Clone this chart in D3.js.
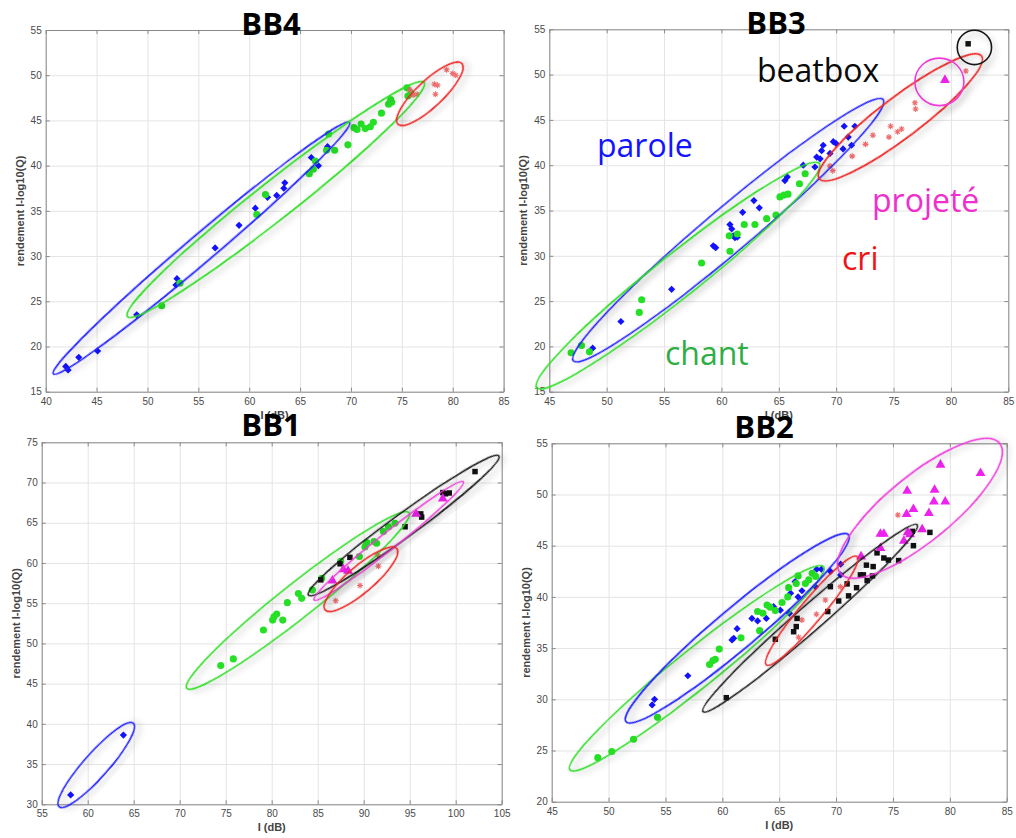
<!DOCTYPE html>
<html><head><meta charset="utf-8">
<script src="https://cdn.jsdelivr.net/npm/d3@7"></script>
<style>body{margin:0;background:#fff}svg{display:block}</style>
</head><body>
<svg id="c" width="1016" height="838"></svg>
<script>
// ---- measurements: I (dB) vs rendement I-log10(Q), one block per subject ----
const classes = ["parole", "chant", "cri", "beatbox", "projete"];
const classNames = ["parole", "chant", "cri", "beatbox", "projeté"];

// BB4
const bb4XTicks = [40, 45, 50, 55, 60, 65, 70, 75, 80, 85];
const bb4YTicks = [15, 20, 25, 30, 35, 40, 45, 50, 55];
const bb4Parole = [[41.97,17.8],[42.2,17.4],[43.25,18.8],[45.1,19.5],[48.95,23.5],[52.8,26.8],[52.9,27.5],[56.65,30.9],[59.0,33.4],[60.6,35.3],[61.8,36.5],[62.7,36.7],[63.4,37.5],[63.5,38.1],[66.1,40.9],[66.8,40.0],[67.7,42.1]];
const bb4Chant = [[51.4,24.5],[53.2,27.0],[60.75,34.6],[61.6,36.8],[65.9,39.1],[66.3,39.6],[66.5,40.5],[67.6,41.7],[67.8,43.5],[68.4,41.7],[69.7,42.3],[70.3,44.2],[70.6,44.0],[71.0,44.6],[71.4,44.1],[71.9,44.3],[72.2,44.8],[73.0,45.8],[73.7,46.8],[73.9,47.3],[74.0,47.0],[75.5,48.6],[75.6,47.7],[75.9,48.0]];
const bb4Cri = [[75.8,48.4],[76.1,47.8],[76.5,47.9],[78.2,49.0],[78.5,48.9],[78.3,47.9],[79.4,50.6],[80.0,50.2],[80.3,50.0]];
// ellipse: class, end of major axis (x1,y1), other end (x2,y2), minor/major ratio
const bb4Ellipses = [["parole",40.75,16.96,69.87,44.78,0.07],["chant",48.03,23.3,77.2,49.2,0.1],["cri",74.6,44.6,80.9,51.3,0.3]];

// BB3
const bb3XTicks = [45, 50, 55, 60, 65, 70, 75, 80, 85];
const bb3YTicks = [15, 20, 25, 30, 35, 40, 45, 50, 55];
const bb3Parole = [[48.78,19.8],[51.24,22.75],[55.66,26.3],[59.29,31.1],[59.5,30.9],[60.74,33.45],[60.9,32.97],[61.03,32.2],[61.18,32.0],[61.38,32.05],[61.85,34.8],[62.83,36.1],[63.3,35.3],[65.53,38.3],[65.74,38.7],[67.13,40.0],[68.15,39.8],[68.3,40.9],[68.6,40.7],[68.73,41.6],[68.87,42.2],[69.46,41.3],[69.75,42.6],[69.98,42.4],[70.6,41.8],[70.7,44.3],[71.05,43.1],[71.34,42.2],[71.63,44.3]];
const bb3Chant = [[46.9,19.3],[47.8,20.1],[48.5,19.4],[53.05,25.15],[52.84,23.75],[58.27,29.2],[60.74,30.5],[60.68,32.2],[61.38,32.4],[61.99,33.45],[62.92,33.45],[63.94,34.1],[64.75,34.5],[65.1,36.5],[65.45,36.7],[65.8,36.8],[66.8,37.95],[67.3,39.06]];
const bb3Cri = [[69.46,39.9],[69.7,39.4],[71.4,41.0],[72.56,42.3],[73.2,43.3],[74.6,43.1],[74.74,44.3],[75.35,43.7],[75.7,44.0],[76.86,46.9],[76.92,46.2],[81.3,50.4]];
const bb3Projete = [[79.48,49.4]];
const bb3Beatbox = [[81.5,53.4]];
const bb3Ellipses = [["parole",47.09,18.4,74.1,47.25,0.11],["chant",43.9,15.44,68.53,40.2,0.12],["cri",68.53,38.5,82.67,52.05,0.2],["projete",76.86,49.2,81.13,49.2,0.97],["beatbox",80.55,53.0,83.54,53.0,1.0]];

// BB1
const bb1XTicks = [55, 60, 65, 70, 75, 80, 85, 90, 95, 100, 105];
const bb1YTicks = [30, 35, 40, 45, 50, 55, 60, 65, 70, 75];
const bb1Parole = [[58.15,31.16],[63.88,38.6]];
const bb1Chant = [[74.46,47.24],[75.83,48.07],[79.1,51.67],[80.1,52.9],[80.25,53.3],[80.54,53.66],[81.2,52.9],[81.7,55.07],[82.9,56.2],[83.26,55.6],[84.42,56.65],[85.43,58.1],[87.5,60.2],[89.53,60.8],[90.14,62.0],[90.33,62.53],[91.12,62.66],[91.4,62.45],[92.14,63.9],[92.7,64.5],[93.4,64.94]];
const bb1Cri = [[86.96,55.3],[89.6,57.2],[91.6,59.6],[91.5,61.0]];
const bb1Beatbox = [[85.33,57.9],[87.43,59.9],[88.5,60.7],[94.5,64.5],[96.2,66.1],[96.3,65.7],[98.6,68.75],[98.9,68.6],[99.3,68.7],[102.1,71.36]];
const bb1Projete = [[86.6,57.8],[87.8,59.2],[88.3,59.0],[95.7,66.1],[98.6,68.0]];
const bb1Ellipses = [["parole",56.9,29.7,64.96,40.07,0.22],["chant",70.76,44.42,94.93,66.26,0.12],["beatbox",83.99,56.0,104.7,73.3,0.1],["projete",84.6,55.4,100.83,70.1,0.09],["cri",85.8,54.16,93.6,61.8,0.28]];

// BB2
const bb2XTicks = [45, 50, 55, 60, 65, 70, 75, 80, 85];
const bb2YTicks = [20, 25, 30, 35, 40, 45, 50, 55];
const bb2Parole = [[53.83,29.45],[54.04,30.0],[56.97,32.3],[60.85,35.8],[61.0,35.96],[61.3,36.9],[62.6,37.9],[63.1,37.65],[63.87,37.9],[64.5,39.05],[65.1,38.7],[65.9,38.4],[66.0,40.36],[66.4,41.5],[66.66,40.0],[67.0,40.6],[68.18,41.0],[68.3,42.7],[68.7,42.7],[69.5,42.5],[70.4,42.15],[70.4,43.2]];
const bb2Chant = [[49.05,24.3],[50.28,24.9],[52.19,26.1],[54.3,28.24],[58.88,33.4],[59.17,33.78],[59.38,33.9],[59.73,34.9],[61.64,36.0],[63.28,36.7],[63.1,38.57],[63.57,38.4],[63.93,39.2],[64.2,39.0],[64.66,38.66],[65.25,39.45],[65.75,40.0],[65.83,40.9],[66.5,41.3],[66.66,42.05],[67.3,41.3],[67.6,41.66],[67.9,42.3],[68.2,42.0]];
const bb2Cri = [[66.7,36.06],[67.0,37.75],[68.27,38.3],[69.06,39.7],[70.38,41.0],[75.43,48.0]];
const bb2Beatbox = [[60.35,30.16],[64.66,35.86],[66.27,36.6],[66.5,37.1],[66.57,37.9],[69.27,38.57],[69.5,41.0],[70.23,39.6],[70.97,41.27],[71.1,40.1],[71.8,40.9],[72.14,42.15],[72.4,42.15],[72.67,43.1],[72.73,41.6],[73.2,42.05],[73.26,42.96],[73.6,44.3],[74.2,43.8],[74.6,43.6],[75.5,43.55],[76.7,46.4],[76.8,45.0],[78.25,46.3]];
const bb2Projete = [[72.2,43.94],[73.9,44.76],[73.9,46.16],[74.2,46.16],[75.96,45.47],[76.2,48.07],[76.25,50.36],[76.3,46.3],[76.5,46.1],[76.8,48.57],[77.57,46.6],[78.16,48.17],[78.6,49.3],[78.66,50.45],[79.18,52.9],[79.6,49.3],[82.7,52.08]];
const bb2Ellipses = [["chant",46.6,23.1,68.9,42.96,0.12],["parole",51.54,27.8,71.1,46.06,0.14],["beatbox",58.3,28.8,77.13,47.04,0.09],["cri",63.87,33.36,71.85,43.94,0.16],["projete",70.38,42.3,84.38,55.0,0.32]];

const yLabel = "rendement I-log10(Q)";
const xLabel = "I (dB)";

// ---- styling ----
const markColor = {parole:"#1212ff", chant:"#25e025", cri:"#f07070", beatbox:"#111111", projete:"#ee22ee"};
const ringColor = {parole:"#1f1fff", chant:"#2bdd22", cri:"#ee2020", beatbox:"#151515", projete:"#ee3ad8"};
const textColor = {parole:"#1414ff", chant:"#2fae45", cri:"#ee1515", beatbox:"#0a0a0a", projete:"#ee30cc"};

const panels = [
  {title:"BB4", xd:[40,85], yd:[15,55], xt:bb4XTicks, yt:bb4YTicks, box:[45.7,503.6,30,391.7], tx:271, ty:35,
   data:{parole:bb4Parole, chant:bb4Chant, cri:bb4Cri}, ell:bb4Ellipses},
  {title:"BB3", xd:[45,85], yd:[15,55], xt:bb3XTicks, yt:bb3YTicks, box:[549.3,1008.3,29.3,391.7], tx:776, ty:34,
   data:{parole:bb3Parole, chant:bb3Chant, cri:bb3Cri, beatbox:bb3Beatbox, projete:bb3Projete}, ell:bb3Ellipses},
  {title:"BB1", xd:[55,105], yd:[30,75], xt:bb1XTicks, yt:bb1YTicks, box:[41.7,501.7,442.3,804.3], tx:271, ty:436,
   data:{parole:bb1Parole, chant:bb1Chant, cri:bb1Cri, beatbox:bb1Beatbox, projete:bb1Projete}, ell:bb1Ellipses},
  {title:"BB2", xd:[45,85], yd:[20,55], xt:bb2XTicks, yt:bb2YTicks, box:[551.7,1006.7,443.3,801.7], tx:764, ty:438,
   data:{parole:bb2Parole, chant:bb2Chant, cri:bb2Cri, beatbox:bb2Beatbox, projete:bb2Projete}, ell:bb2Ellipses}
];

const svg = d3.select("#c");
svg.append("rect").attr("width",1016).attr("height",838).attr("fill","#fff");

const defs = svg.append("defs");
defs.append("filter").attr("id","shadow").attr("x","-30%").attr("y","-30%").attr("width","160%").attr("height","160%")
  .append("feDropShadow").attr("dx",3).attr("dy",4).attr("stdDeviation",3)
  .attr("flood-color","#000").attr("flood-opacity",0.28);

const asterisk = "M-3,0H3M0,-3V3M-2.1,-2.1L2.1,2.1M-2.1,2.1L2.1,-2.1";
const symbolFor = {
  parole: d3.symbol(d3.symbolSquare, 26)(),
  chant: d3.symbol(d3.symbolCircle, 40)(),
  beatbox: d3.symbol(d3.symbolSquare, 30)(),
  projete: d3.symbol(d3.symbolTriangle, 42)()
};

const layers = panels.map(p => {
  const [x0,x1,y0,y1] = p.box;
  const x = d3.scaleLinear().domain(p.xd).range([x0,x1]);
  const y = d3.scaleLinear().domain(p.yd).range([y1,y0]);
  const g = svg.append("g");

  // grid
  g.append("g").attr("transform",`translate(0,${y1})`)
    .call(d3.axisBottom(x).tickValues(p.xt).tickSize(-(y1-y0)).tickFormat(""))
    .call(a => a.select(".domain").remove())
    .call(a => a.selectAll("line").attr("stroke","#e4e4e4"));
  g.append("g").attr("transform",`translate(${x0},0)`)
    .call(d3.axisLeft(y).tickValues(p.yt).tickSize(-(x1-x0)).tickFormat(""))
    .call(a => a.select(".domain").remove())
    .call(a => a.selectAll("line").attr("stroke","#e4e4e4"));

  // axes with inward ticks on all four sides
  const fmt = d3.format("d");
  const axStyle = a => {
    a.select(".domain").attr("stroke","#8a8a8a");
    a.selectAll(".tick line").attr("stroke","#8a8a8a");
    a.selectAll("text").attr("fill","#4a4a4a").style("font-family","'Liberation Sans', Arial, sans-serif").style("font-size","10px");
  };
  g.append("g").attr("transform",`translate(0,${y1})`)
    .call(d3.axisBottom(x).tickValues(p.xt).tickSizeInner(-4).tickSizeOuter(0).tickPadding(6).tickFormat(fmt)).call(axStyle);
  g.append("g").attr("transform",`translate(0,${y0})`)
    .call(d3.axisTop(x).tickValues(p.xt).tickSizeInner(-4).tickSizeOuter(0).tickFormat("")).call(axStyle);
  g.append("g").attr("transform",`translate(${x0},0)`)
    .call(d3.axisLeft(y).tickValues(p.yt).tickSizeInner(-4).tickSizeOuter(0).tickPadding(4).tickFormat(fmt)).call(axStyle);
  g.append("g").attr("transform",`translate(${x1},0)`)
    .call(d3.axisRight(y).tickValues(p.yt).tickSizeInner(-4).tickSizeOuter(0).tickFormat("")).call(axStyle);

  // axis labels
  g.append("text").attr("x",(x0+x1)/2).attr("y",y1+27).attr("text-anchor","middle")
    .style("font-family","'Liberation Sans', Arial, sans-serif").style("font-size","11px").style("font-weight","bold")
    .attr("fill","#444").text(xLabel);
  g.append("text").attr("transform",`translate(${x0-22},${(y0+y1)/2}) rotate(-90)`).attr("text-anchor","middle")
    .style("font-family","'Liberation Sans', Arial, sans-serif").style("font-size","11px").style("font-weight","bold")
    .attr("fill","#444").text(yLabel);

  // points
  classes.forEach(c => {
    const pts = p.data[c];
    if (!pts) return;
    const sel = g.append("g").selectAll("path").data(pts).join("path")
      .attr("transform", d => `translate(${x(d[0])},${y(d[1])})` + (c === "parole" ? " rotate(45)" : ""));
    if (c === "cri") {
      sel.attr("d", asterisk).attr("fill","none").attr("stroke", markColor[c]).attr("stroke-width",1.1);
    } else {
      sel.attr("d", symbolFor[c]).attr("fill", markColor[c]);
    }
  });

  // class ellipses
  g.append("g").selectAll("ellipse").data(p.ell).join("ellipse")
    .each(function(e) {
      const ax = x(e[1]), ay = y(e[2]), bx = x(e[3]), by = y(e[4]);
      const cx = (ax+bx)/2, cy = (ay+by)/2;
      const a = Math.hypot(bx-ax, by-ay)/2;
      const ang = Math.atan2(by-ay, bx-ax) * 180 / Math.PI;
      d3.select(this).attr("cx",0).attr("cy",0).attr("rx",a).attr("ry",a*e[5])
        .attr("transform",`translate(${cx},${cy}) rotate(${ang})`);
    })
    .attr("fill","none").attr("stroke", e => ringColor[e[0]]).attr("stroke-width",1.6)
    .attr("filter","url(#shadow)");

  return {p, x, y, g};
});

// class names written next to the BB3 clusters
const labelSpots = {parole:[597,157], chant:[665,365], cri:[842,270], projete:[872,212], beatbox:[757,82]};
classes.forEach((c, i) => {
  svg.append("text").attr("x", labelSpots[c][0]).attr("y", labelSpots[c][1])
    .style("font-family","'Open Sans', sans-serif").style("font-size","32px")
    .attr("fill", textColor[c]).text(classNames[i]);
});

// panel titles on top of everything
layers.forEach(({p}) => {
  svg.append("text").attr("x", p.tx).attr("y", p.ty).attr("text-anchor","middle")
    .style("font-family","'Open Sans', sans-serif").style("font-size","31px").style("font-weight","bold")
    .attr("fill","#000").text(p.title);
});
</script>
</body></html>
